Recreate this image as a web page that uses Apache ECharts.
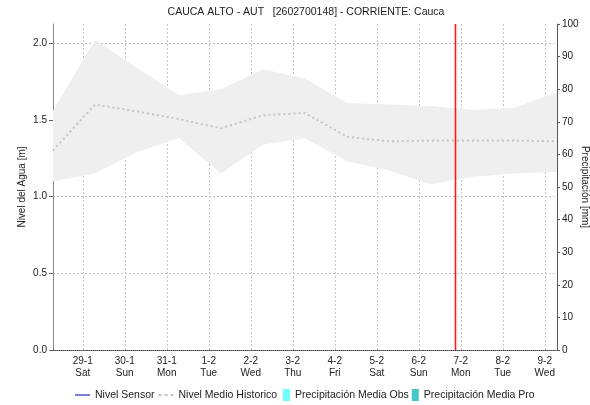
<!DOCTYPE html>
<html>
<head>
<meta charset="utf-8">
<script src="https://cdn.jsdelivr.net/npm/echarts@6/dist/echarts.min.js"></script>
<style>
  html, body { margin: 0; padding: 0; background: #fff; }
  #chart { width: 590px; height: 405px; }
</style>
</head>
<body>
<div id="chart"></div>
<script>
// Day ticks (placed at midnight)
const dayLabels = ['29-1', '30-1', '31-1', '1-2', '2-2', '3-2', '4-2', '5-2', '6-2', '7-2', '8-2', '9-2'];
const dayNames  = ['Sat', 'Sun', 'Mon', 'Tue', 'Wed', 'Thu', 'Fri', 'Sat', 'Sun', 'Mon', 'Tue', 'Wed'];

// Historic water level envelope, one value per day at 07:00 (28-1 .. 9-2), metres
const histUpper = [1.56, 2.02, 1.84, 1.66, 1.70, 1.83, 1.77, 1.61, 1.60, 1.59, 1.565, 1.58, 1.68];
const histLower = [1.10, 1.15, 1.29, 1.38, 1.15, 1.34, 1.38, 1.23, 1.17, 1.08, 1.13, 1.15, 1.16];
const histMean  = [1.30, 1.60, 1.555, 1.505, 1.445, 1.53, 1.545, 1.39, 1.36, 1.365, 1.365, 1.365, 1.36];

// Sensor level and precipitation have no readings in this window
const sensorLevel = [];
const precipObs = [];
const precipPro = [];

// Left axis ticks (m) and range
const levelTicks = [0, 0.5, 1.0, 1.5, 2.0];
const levelMax = 2.125;

// Hourly time base: index 0 = 28-1 07:00, 288 hours in total
const totalHours = 288;
const firstMidnight = 17;   // 29-1 00:00
const stepHours = 24;       // historic values are daily
const nowHour = 230;        // current time marker (6-2 21:00)

const hourCats = [];
for (let i = 0; i <= totalHours; i++) hourCats.push(String(i));

const isMidnight = (idx) => idx >= firstMidnight && (idx - firstMidnight) % 24 === 0;
const pairs = (arr) => arr.map((v, k) => [k * stepHours, v]);
const bandWidth = histUpper.map((u, k) => +(u - histLower[k]).toFixed(4));

const FONT = 'Liberation Sans, Arial, sans-serif';
const TXT = '#222';
const GRID_LINE = { color: '#c4c4c4', type: [2, 2], width: 1 };

// Legend glyphs: 15x12 boxes (corner move-tos fix the box size)
const ICON_SOLID = 'path://M0,0L0,0M0,5.5h15v1h-15zM15,12L15,12';
const ICON_DOTS  = 'path://M0,0L0,0M0,5h3v2h-3zM6,5h3v2h-3zM12,5h3v2h-3zM15,12L15,12';

const chart = echarts.init(document.getElementById('chart'), null, { renderer: 'canvas' });

chart.setOption({
  animation: false,
  textStyle: { fontFamily: FONT, color: TXT },
  title: {
    text: 'CAUCA ALTO - AUT   [2602700148] - CORRIENTE: Cauca',
    left: 301,
    textAlign: 'center',
    top: 2,
    textStyle: { fontFamily: FONT, fontSize: 10.5, fontWeight: 'normal', color: TXT }
  },
  grid: { left: 53, right: 33, top: 24, bottom: 55, containLabel: false, outerBoundsMode: 'none' },
  legend: [
    {
      left: 70, top: 384, itemWidth: 15, itemHeight: 12, itemGap: 4,
      textStyle: { fontFamily: FONT, fontSize: 10.5, color: TXT },
      data: [
        { name: 'Nivel Sensor', icon: ICON_SOLID },
        { name: 'Nivel Medio Historico', icon: ICON_DOTS }
      ]
    },
    {
      left: 278, top: 384, itemWidth: 7, itemHeight: 12, itemGap: 3,
      textStyle: { fontFamily: FONT, fontSize: 10.5, color: TXT },
      data: [
        { name: 'Precipitación Media Obs', icon: 'rect' },
        { name: 'Precipitación Media Pro', icon: 'rect' }
      ]
    }
  ],
  xAxis: {
    type: 'category',
    data: hourCats,
    boundaryGap: false,
    axisLine: { lineStyle: { color: '#444', type: [1, 1], width: 1 } },
    axisTick: { show: false },
    axisLabel: {
      interval: (idx) => isMidnight(idx),
      formatter: (val, idx) => {
        const d = (Number(val) - firstMidnight) / 24;
        return dayLabels[d] + '\n' + dayNames[d];
      },
      fontSize: 10, lineHeight: 12, color: TXT, margin: 5, fontFamily: FONT
    },
    splitLine: { show: true, interval: (idx) => isMidnight(idx), lineStyle: GRID_LINE }
  },
  yAxis: [
    {
      type: 'value',
      min: 0, max: levelMax,
      name: 'Nivel del Agua [m]',
      nameLocation: 'middle',
      nameGap: 26,
      nameMoveOverlap: false,
      nameTextStyle: { fontSize: 10, color: TXT, fontFamily: FONT },
      axisLine: { show: true, lineStyle: { color: '#8a8a8a' } },
      axisTick: { show: true, length: 4, customValues: levelTicks, lineStyle: { color: '#666' } },
      axisLabel: {
        customValues: levelTicks,
        formatter: (v) => v.toFixed(1),
        fontSize: 10, color: TXT, margin: 6, fontFamily: FONT
      },
      splitLine: { show: true, lineStyle: GRID_LINE }
    },
    {
      type: 'value',
      position: 'right',
      min: 0, max: 100, interval: 10,
      name: 'Precipitación [mm]',
      nameLocation: 'middle',
      nameRotate: -90,
      nameGap: 23,
      nameMoveOverlap: false,
      nameTextStyle: { fontSize: 10, color: TXT, fontFamily: FONT },
      axisLine: { show: true, lineStyle: { color: '#555' } },
      axisTick: { show: true, length: 3, lineStyle: { color: '#555' } },
      axisLabel: { fontSize: 10, color: TXT, margin: 5, fontFamily: FONT },
      splitLine: { show: false }
    }
  ],
  series: [
    {
      name: 'bandLower',
      type: 'line',
      stack: 'band',
      data: pairs(histLower),
      symbol: 'none',
      lineStyle: { width: 0, opacity: 0 },
      silent: true,
      z: 1
    },
    {
      name: 'bandRange',
      type: 'line',
      stack: 'band',
      data: pairs(bandWidth),
      symbol: 'none',
      lineStyle: { width: 0, opacity: 0 },
      areaStyle: { color: '#efefef', opacity: 1 },
      silent: true,
      z: 1
    },
    {
      name: 'Nivel Sensor',
      type: 'line',
      data: sensorLevel,
      symbol: 'none',
      color: '#0000c0',
      lineStyle: { color: '#0000c0', width: 1 },
      z: 4
    },
    {
      name: 'Nivel Medio Historico',
      type: 'line',
      data: pairs(histMean),
      symbol: 'none',
      color: '#c4c4c4',
      lineStyle: { color: '#c4c4c4', width: 2, type: [2, 3] },
      z: 3
    },
    {
      // vertical marker for the current time over the full level range
      name: 'ahora',
      type: 'custom',
      silent: true,
      z: 5,
      data: [[nowHour, 0, levelMax]],
      renderItem: (params, api) => {
        const bottom = api.coord([api.value(0), api.value(1)]);
        const top = api.coord([api.value(0), api.value(2)]);
        return {
          type: 'rect',
          shape: { x: Math.floor(bottom[0]) - 0.3, y: top[1], width: 1.6, height: bottom[1] - top[1] },
          style: { fill: '#ff1a1a' }
        };
      }
    },
    {
      name: 'Precipitación Media Obs',
      type: 'bar',
      yAxisIndex: 1,
      data: precipObs,
      color: '#70ffff',
      itemStyle: { color: '#70ffff' }
    },
    {
      name: 'Precipitación Media Pro',
      type: 'bar',
      yAxisIndex: 1,
      data: precipPro,
      color: '#44c8c8',
      itemStyle: { color: '#44c8c8' }
    }
  ]
});
</script>
</body>
</html>
